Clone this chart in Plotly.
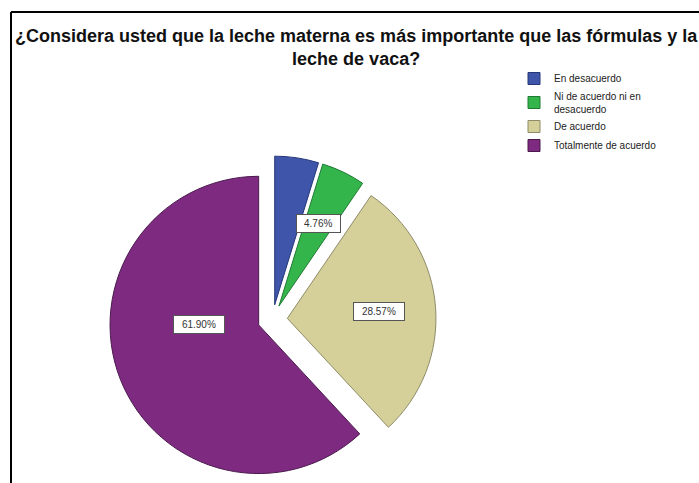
import math
import plotly.graph_objects as go

# Survey answers (n = 21)
categories = [
    "En desacuerdo",
    "Ni de acuerdo ni en<br>desacuerdo",
    "De acuerdo",
    "Totalmente de acuerdo",
]
counts = [1, 1, 6, 13]
slice_colors = ["#3e55a9", "#34b54b", "#d5d099", "#7d2a80"]
edge_colors = ["#26377a", "#1f7a33", "#8e8b68", "#4b1a4d"]
show_label = [False, True, True, True]
title_text = (
    "¿Considera usted que la leche materna es más importante que las fórmulas y la"
    "<br>leche de vaca?"
)

W, H = 699, 483
FONT = "Liberation Sans, Arial, sans-serif"

total = sum(counts)
pct_text = [f"{100 * c / total:.2f}%" for c in counts]

# Pie geometry (pixels): every slice is pulled out from the centre
PULL = 0.1
cx_px = 272.5
top_px = 156
half = (H - top_px) / 2
cy_px = top_px + half
r_px = half / (1 + PULL)

fig = go.Figure(
    go.Pie(
        labels=categories,
        values=counts,
        sort=False,
        direction="clockwise",
        rotation=0,
        pull=[PULL] * len(counts),
        marker=dict(colors=slice_colors, line=dict(color=edge_colors, width=1)),
        textinfo="none",
        hoverinfo="label+percent",
        domain=dict(
            x=[(cx_px - half - 10) / W, (cx_px + half + 10) / W],
            y=[0, (H - top_px) / H],
        ),
    )
)

# Boxed percentage labels placed inside each slice
annotations = []
start = 0.0
for i, c in enumerate(counts):
    sweep = 360 * c / total
    mid = math.radians(start + sweep / 2)
    start += sweep
    if not show_label[i]:
        continue
    dx, dy = math.sin(mid), -math.cos(mid)
    ax = cx_px + PULL * r_px * dx
    ay = cy_px + PULL * r_px * dy
    if sweep > 180:
        # wide slice: keep the label level with the slice apex
        lx, ly = ax + math.copysign(0.4 * r_px, dx), ay
    else:
        lx, ly = ax + 0.62 * r_px * dx, ay + 0.62 * r_px * dy
    annotations.append(
        dict(
            x=lx / W, y=1 - ly / H, xref="paper", yref="paper",
            xanchor="center", yanchor="middle",
            text=pct_text[i], showarrow=False,
            font=dict(family=FONT, size=10, color="#333333"),
            bgcolor="white", bordercolor="#555555", borderwidth=1, borderpad=3,
            width=7.3 * len(pct_text[i]),
        )
    )

# Two-line chart title
annotations.append(
    dict(
        x=356 / W, y=1 - 48 / H, xref="paper", yref="paper",
        xanchor="center", yanchor="middle",
        text=f"<b>{title_text}</b>", showarrow=False,
        font=dict(family=FONT, size=18, color="#111111"),
    )
)

fig.update_layout(
    width=W, height=H,
    margin=dict(l=0, r=0, t=0, b=0),
    paper_bgcolor="white", plot_bgcolor="white",
    annotations=annotations,
    showlegend=True,
    legend=dict(
        x=514 / W, y=1 - 64 / H, xanchor="left", yanchor="top",
        font=dict(family=FONT, size=10, color="#222222"),
        bgcolor="rgba(0,0,0,0)", traceorder="normal",
    ),
    shapes=[
        dict(type="line", xref="paper", yref="paper",
             x0=11 / W, y0=1 - 12 / H, x1=1.02, y1=1 - 12 / H,
             line=dict(color="black", width=2)),
        dict(type="line", xref="paper", yref="paper",
             x0=11 / W, y0=1 - 12 / H, x1=11 / W, y1=-0.02,
             line=dict(color="black", width=2)),
    ],
)

fig.write_html("out.html")
